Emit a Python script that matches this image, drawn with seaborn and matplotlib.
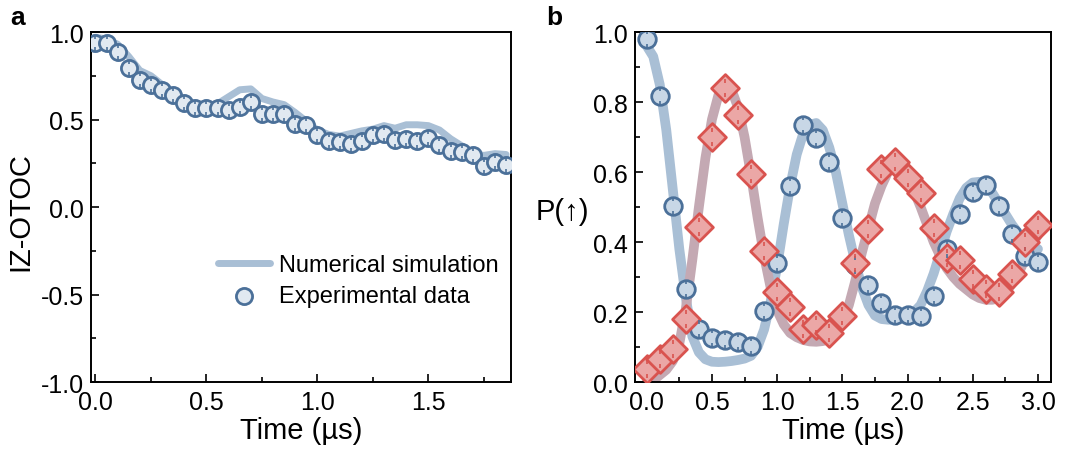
import numpy as np
import pandas as pd
import matplotlib
matplotlib.use("Agg")
import matplotlib.pyplot as plt
from matplotlib.path import Path
from matplotlib.ticker import MultipleLocator
import seaborn as sns

sns.set_style("ticks")
plt.rcParams["font.family"] = ["Liberation Sans", "DejaVu Sans"]
plt.rcParams["axes.unicode_minus"] = False
plt.rcParams["text.color"] = "black"
plt.rcParams["axes.labelcolor"] = "black"
plt.rcParams["xtick.color"] = "black"
plt.rcParams["ytick.color"] = "black"

# panel a: IZ-OTOC
t_a = np.round(np.arange(0, 1.851, 0.05), 2)
otoc_exp = [0.94, 0.935, 0.886, 0.794, 0.727, 0.70, 0.67, 0.638, 0.594, 0.567,
            0.567, 0.567, 0.556, 0.571, 0.60, 0.529, 0.529, 0.533, 0.472, 0.467,
            0.409, 0.375, 0.371, 0.358, 0.375, 0.409, 0.419, 0.385, 0.39, 0.377,
            0.394, 0.352, 0.32, 0.314, 0.295, 0.232, 0.257, 0.238]
otoc_sim = [0.97, 0.96, 0.93, 0.86, 0.78, 0.75, 0.70, 0.65, 0.61, 0.59,
            0.58, 0.59, 0.63, 0.67, 0.675, 0.62, 0.60, 0.585, 0.54, 0.49,
            0.44, 0.415, 0.405, 0.42, 0.435, 0.445, 0.465, 0.45, 0.47, 0.47,
            0.465, 0.44, 0.39, 0.35, 0.305, 0.295, 0.305, 0.30]

# panel b: P(up)
t_b = np.round(np.arange(0, 3.01, 0.1), 2)
blue_exp = [0.98, 0.818, 0.504, 0.267, 0.152, 0.127, 0.121, 0.115, 0.104, 0.204,
            0.341, 0.561, 0.735, 0.698, 0.63, 0.469, 0.333, 0.278, 0.226, 0.192,
            0.192, 0.19, 0.247, 0.381, 0.481, 0.543, 0.564, 0.504, 0.424, 0.361,
            0.344]
red_exp = [0.038, 0.067, 0.095, 0.181, 0.444, 0.70, 0.84, 0.764, 0.593, 0.375,
           0.258, 0.215, 0.152, 0.164, 0.141, 0.19, 0.341, 0.438, 0.61, 0.63,
           0.584, 0.541, 0.441, 0.355, 0.349, 0.295, 0.267, 0.258, 0.31, 0.40,
           0.45]

t_sim = np.round(np.arange(0, 3.001, 0.05), 2)
blue_sim = [0.96, 0.93, 0.85, 0.72, 0.55, 0.38, 0.24, 0.13, 0.085, 0.065,
            0.058, 0.057, 0.058, 0.06, 0.063, 0.067, 0.075, 0.10, 0.15, 0.23,
            0.33, 0.45, 0.56, 0.65, 0.71, 0.735, 0.74, 0.72, 0.67, 0.60,
            0.51, 0.42, 0.34, 0.27, 0.22, 0.19, 0.18, 0.178, 0.178, 0.182,
            0.19, 0.20, 0.22, 0.26, 0.31, 0.37, 0.43, 0.48, 0.525, 0.555,
            0.57, 0.572, 0.56, 0.54, 0.51, 0.48, 0.45, 0.425, 0.405, 0.39,
            0.38]
red_sim = [0.0, 0.005, 0.02, 0.035, 0.06, 0.11, 0.21, 0.35, 0.50, 0.64,
           0.75, 0.82, 0.845, 0.835, 0.785, 0.70, 0.59, 0.47, 0.36, 0.27,
           0.205, 0.165, 0.14, 0.128, 0.12, 0.116, 0.115, 0.117, 0.123, 0.14,
           0.17, 0.22, 0.29, 0.37, 0.44, 0.51, 0.56, 0.60, 0.615, 0.61,
           0.585, 0.545, 0.50, 0.45, 0.40, 0.36, 0.325, 0.30, 0.28, 0.265,
           0.25, 0.24, 0.235, 0.235, 0.24, 0.255, 0.28, 0.31, 0.35, 0.39,
           0.42]

df_a = pd.DataFrame({"t": t_a, "exp": otoc_exp, "sim": otoc_sim})
df_b = pd.DataFrame({"t": t_b, "blue": blue_exp, "red": red_exp})
df_s = pd.DataFrame({"t": t_sim, "blue": blue_sim, "red": red_sim})

edge_blue = "#4b7099"
face_blue_a = "#e1e9f1"
face_blue_b = "#c8d7e6"
sim_blue = "#a9bfd5"
edge_red = "#d9534f"
face_red = "#eba7a6"
sim_red = "#c4a9b3"

# small error-bar ticks inside the markers
tick_path = Path([(0, 1), (0, 0.5), (0, -1), (0, -0.5)],
                 [Path.MOVETO, Path.LINETO, Path.MOVETO, Path.LINETO])

fig = plt.figure(figsize=(10.86, 4.56), dpi=100)
ax1 = fig.add_axes([0.0838, 0.160, 0.3867, 0.7676])
ax2 = fig.add_axes([0.5847, 0.160, 0.3831, 0.7676])

# panel a
sns.lineplot(data=df_a, x="t", y="sim", ax=ax1, color=sim_blue, lw=5,
             solid_capstyle="round", label="Numerical simulation", zorder=2)
sns.scatterplot(data=df_a, x="t", y="exp", ax=ax1, s=135, marker="o",
                facecolor=face_blue_a, edgecolor=edge_blue, linewidth=2,
                label="Experimental data", zorder=3)
ax1.plot(df_a["t"], df_a["exp"], ls="none", marker=tick_path, ms=12,
         mec=edge_blue, mew=1.2, zorder=4)

ax1.set_xlim(-0.02, 1.872)
ax1.set_ylim(-1.0, 1.0)
ax1.xaxis.set_major_locator(MultipleLocator(0.5))
ax1.xaxis.set_minor_locator(MultipleLocator(0.25))
ax1.yaxis.set_major_locator(MultipleLocator(0.5))
ax1.yaxis.set_minor_locator(MultipleLocator(0.25))
ax1.set_xlabel("Time (µs)", fontsize=21)
ax1.set_ylabel("IZ-OTOC", fontsize=21, va="center")
ax1.yaxis.set_label_coords(-0.167, 0.49)
ax1.xaxis.set_label_coords(0.5, -0.098)
ax1.legend(loc="center left", bbox_to_anchor=(0.28, 0.29), frameon=False,
           fontsize=17, handlelength=2.2, handletextpad=0.4, labelspacing=0.4,
           borderaxespad=0)

# panel b
sns.lineplot(data=df_s, x="t", y="blue", ax=ax2, color=sim_blue, lw=7, zorder=2)
sns.lineplot(data=df_s, x="t", y="red", ax=ax2, color=sim_red, lw=7, zorder=2)
sns.scatterplot(data=df_b, x="t", y="blue", ax=ax2, s=160, marker="o",
                facecolor=face_blue_b, edgecolor=edge_blue, linewidth=2, zorder=3)
sns.scatterplot(data=df_b, x="t", y="red", ax=ax2, s=200, marker="D",
                facecolor=face_red, edgecolor=edge_red, linewidth=2, zorder=3)
ax2.plot(df_b["t"], df_b["blue"], ls="none", marker=tick_path, ms=13,
         mec=edge_blue, mew=1.2, zorder=4)
ax2.plot(df_b["t"], df_b["red"], ls="none", marker=tick_path, ms=13,
         mec=edge_red, mew=1.2, zorder=4)

ax2.set_xlim(-0.09, 3.1)
ax2.set_ylim(0.0, 1.0)
ax2.xaxis.set_major_locator(MultipleLocator(0.5))
ax2.xaxis.set_minor_locator(MultipleLocator(0.25))
ax2.yaxis.set_major_locator(MultipleLocator(0.2))
ax2.yaxis.set_minor_locator(MultipleLocator(0.1))
ax2.set_xlabel("Time (µs)", fontsize=21)
ax2.xaxis.set_label_coords(0.5, -0.098)
ax2.set_ylabel("P(↑)", fontsize=21, rotation=0, ha="center", va="center")
ax2.yaxis.set_label_coords(-0.175, 0.49)

for ax in (ax1, ax2):
    for sp in ax.spines.values():
        sp.set_linewidth(1.4)
        sp.set_color("black")
    ax.tick_params(which="both", direction="in", top=False, right=False,
                   labelsize=18, width=1.2, color="black")
    ax.tick_params(which="major", length=6)
    ax.tick_params(which="minor", length=3.5)
    ax.tick_params(axis="x", pad=6)
    ax.tick_params(axis="y", pad=5)

fig.text(0.009, 0.96, "a", fontsize=19, fontweight="bold", va="center")
fig.text(0.503, 0.96, "b", fontsize=19, fontweight="bold", va="center")

fig.savefig("out.png", dpi=100)
